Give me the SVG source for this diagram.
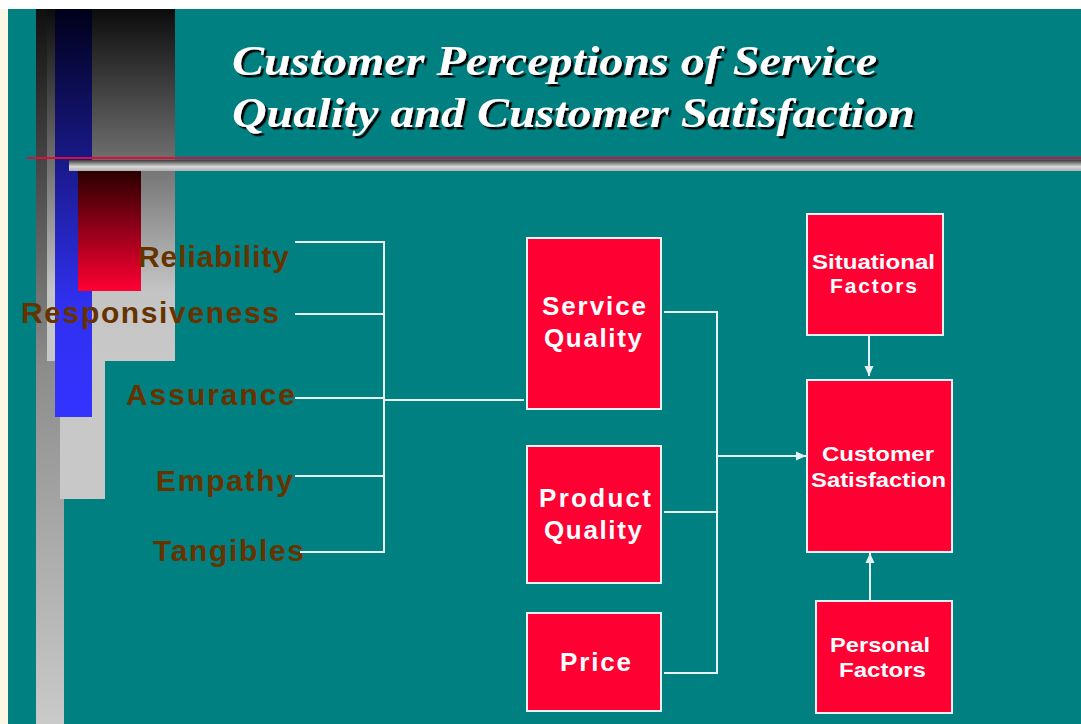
<svg xmlns="http://www.w3.org/2000/svg" width="1081" height="724" viewBox="0 0 1081 724">
  <defs>
    <linearGradient id="gLeftBar" x1="0" y1="0" x2="0" y2="1">
      <stop offset="0" stop-color="#101010"/>
      <stop offset="0.5" stop-color="#8c8c8c"/>
      <stop offset="1" stop-color="#cacaca"/>
    </linearGradient>
    <linearGradient id="gBigBox" x1="0" y1="0" x2="0" y2="1">
      <stop offset="0" stop-color="#0c0c0c"/>
      <stop offset="0.8" stop-color="#c4c4c4"/>
      <stop offset="1" stop-color="#c8c8c8"/>
    </linearGradient>
    <linearGradient id="gBlue" x1="0" y1="0" x2="0" y2="1">
      <stop offset="0" stop-color="#00001a"/>
      <stop offset="0.72" stop-color="#3030f0"/>
      <stop offset="1" stop-color="#3333ff"/>
    </linearGradient>
    <linearGradient id="gRed" x1="0" y1="0" x2="0" y2="1">
      <stop offset="0" stop-color="#2a0000"/>
      <stop offset="1" stop-color="#ff0033"/>
    </linearGradient>
    <linearGradient id="gRule" x1="0" y1="0" x2="0" y2="1">
      <stop offset="0" stop-color="#3a3a3a"/>
      <stop offset="0.6" stop-color="#d8d8d8"/>
      <stop offset="1" stop-color="#b0b0b0"/>
    </linearGradient>
    <filter id="titleShadow" x="-5%" y="-20%" width="110%" height="150%">
      <feDropShadow dx="2.5" dy="2.5" stdDeviation="0.4" flood-color="#000000" flood-opacity="1"/>
    </filter>
    <marker id="arrow" viewBox="0 0 10 10" refX="10" refY="5" markerWidth="10" markerHeight="10" markerUnits="userSpaceOnUse" orient="auto">
      <path d="M0,0.5 L10,5 L0,9.5 z" fill="#e6f2f2"/>
    </marker>
    <style>
      .box { fill: #ff0033; stroke: #e9f2f2; stroke-width: 2; }
      .btxt { font-family: "Liberation Sans", Arial, sans-serif; font-weight: bold; fill: #ffffff; }
      .big { font-size: 26px; }
      .small { font-size: 21px; }
      .lbl { font-family: "Liberation Sans", Arial, sans-serif; font-weight: bold; font-size: 30px; fill: #663300; }
      .title { font-family: "Liberation Serif", "Times New Roman", serif; font-weight: bold; font-style: italic; font-size: 43px; fill: #ffffff; }
      .wire { fill: none; stroke: #e6f2f2; stroke-width: 2; }
    </style>
  </defs>

  <!-- page frame -->
  <rect x="0" y="0" width="1081" height="724" fill="#ffffff"/>
  <rect x="0" y="9" width="8" height="715" fill="#fbf6e6"/>
  <rect x="8" y="9" width="1073" height="715" fill="#008080"/>

  <!-- decorative bars on the left -->
  <g id="decor">
    <rect x="36" y="9" width="28" height="715" fill="url(#gLeftBar)"/>
    <rect x="60" y="300" width="45" height="199" fill="#c8c8c8"/>
    <rect x="47" y="9" width="128" height="352" fill="url(#gBigBox)"/>
    <rect x="55" y="9" width="37" height="408" fill="url(#gBlue)"/>
    <rect x="78" y="171" width="63" height="120" fill="url(#gRed)"/>
    <rect x="69" y="160" width="1012" height="11" fill="url(#gRule)"/>
    <rect x="27" y="157" width="1054" height="2" fill="#d8103a"/>
  </g>

  <!-- heading -->
  <g id="title" filter="url(#titleShadow)">
    <text class="title" x="232" y="75" textLength="645" lengthAdjust="spacingAndGlyphs">Customer Perceptions of Service</text>
    <text class="title" x="232" y="127" textLength="683" lengthAdjust="spacingAndGlyphs">Quality and Customer Satisfaction</text>
  </g>

  <!-- service quality dimensions -->
  <g id="reliability"><text class="lbl" x="138" y="267" textLength="151" lengthAdjust="spacing">Reliability</text></g>
  <g id="responsiveness"><text class="lbl" x="21" y="323" textLength="258" lengthAdjust="spacing">Responsiveness</text></g>
  <g id="assurance"><text class="lbl" x="126" y="405" textLength="169" lengthAdjust="spacing">Assurance</text></g>
  <g id="empathy"><text class="lbl" x="156" y="491" textLength="137" lengthAdjust="spacing">Empathy</text></g>
  <g id="tangibles"><text class="lbl" x="153" y="561" textLength="151" lengthAdjust="spacing">Tangibles</text></g>

  <!-- connectors -->
  <g id="connectors">
    <path class="wire" d="M295,242 H384 V552 H300"/>
    <path class="wire" d="M295,314 H384"/>
    <path class="wire" d="M295,398 H384"/>
    <path class="wire" d="M295,476 H384"/>
    <path class="wire" d="M384,400 H524"/>
    <path class="wire" d="M664,312 H717 V673 H664"/>
    <path class="wire" d="M664,512 H717"/>
    <path class="wire" d="M717,456 H806" marker-end="url(#arrow)"/>
    <path class="wire" d="M869,335 V376" marker-end="url(#arrow)"/>
    <path class="wire" d="M870,601 V553" marker-end="url(#arrow)"/>
  </g>

  <!-- nodes -->
  <g id="service-quality">
    <rect class="box" x="527" y="238" width="134" height="171"/>
    <text class="btxt big" x="542" y="315" textLength="104" lengthAdjust="spacing">Service</text>
    <text class="btxt big" x="544" y="347" textLength="98" lengthAdjust="spacing">Quality</text>
  </g>
  <g id="product-quality">
    <rect class="box" x="527" y="446" width="134" height="137"/>
    <text class="btxt big" x="539" y="507" textLength="112" lengthAdjust="spacing">Product</text>
    <text class="btxt big" x="544" y="539" textLength="98" lengthAdjust="spacing">Quality</text>
  </g>
  <g id="price">
    <rect class="box" x="527" y="613" width="134" height="98"/>
    <text class="btxt big" x="560" y="671" textLength="71" lengthAdjust="spacing">Price</text>
  </g>
  <g id="situational-factors">
    <rect class="box" x="807" y="214" width="136" height="121"/>
    <text class="btxt small" x="812" y="269" textLength="123" lengthAdjust="spacingAndGlyphs">Situational</text>
    <text class="btxt small" x="830" y="293" textLength="87" lengthAdjust="spacing">Factors</text>
  </g>
  <g id="customer-satisfaction">
    <rect class="box" x="807" y="380" width="145" height="172"/>
    <text class="btxt small" x="822" y="461" textLength="112" lengthAdjust="spacingAndGlyphs">Customer</text>
    <text class="btxt small" x="811" y="487" textLength="135" lengthAdjust="spacingAndGlyphs">Satisfaction</text>
  </g>
  <g id="personal-factors">
    <rect class="box" x="816" y="601" width="136" height="112"/>
    <text class="btxt small" x="830" y="652" textLength="100" lengthAdjust="spacingAndGlyphs">Personal</text>
    <text class="btxt small" x="839" y="677" textLength="87" lengthAdjust="spacingAndGlyphs">Factors</text>
  </g>
</svg>
